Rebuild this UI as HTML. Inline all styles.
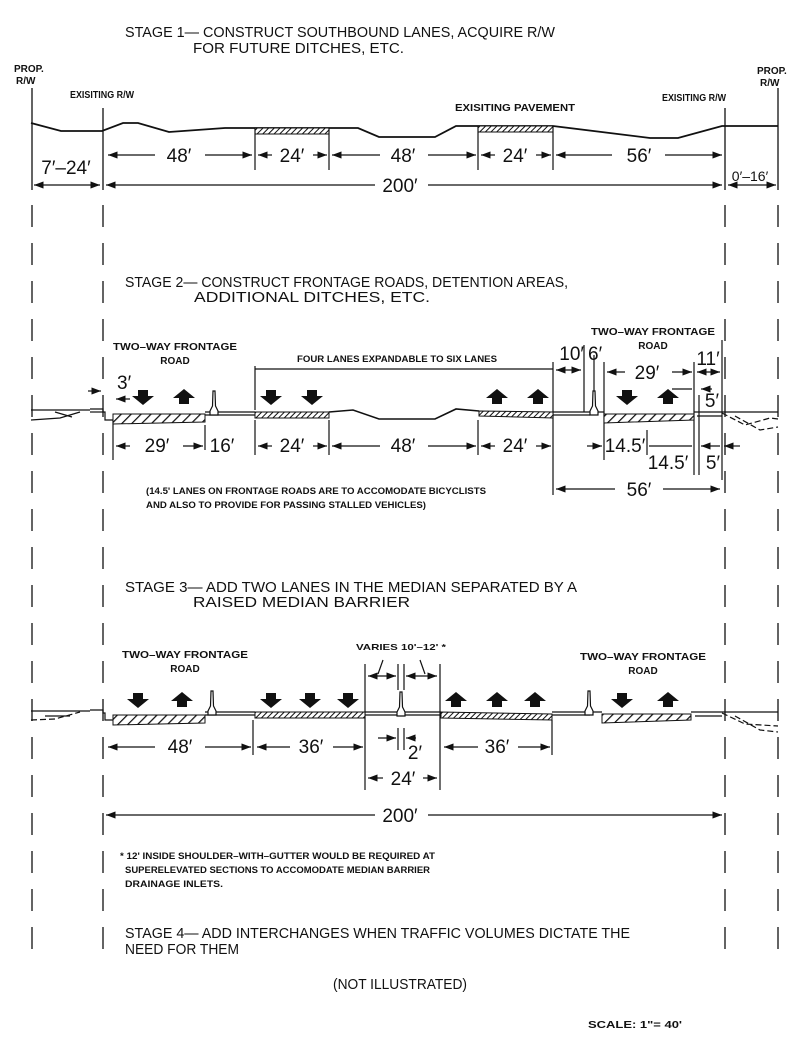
<!DOCTYPE html>
<html><head><meta charset="utf-8"><style>
html,body{margin:0;padding:0;background:#fff;}
svg{display:block;}
text{font-family:"Liberation Sans",sans-serif;fill:#111;}
.h{font-size:15px;}
.d{font-size:19px;}
.s{font-size:10px;font-weight:bold;}
.n{font-size:9px;font-weight:bold;}
</style></head><body>
<svg width="800" height="1039" viewBox="0 0 800 1039" xmlns="http://www.w3.org/2000/svg">
<defs>
<pattern id="hat" width="4" height="4" patternUnits="userSpaceOnUse" patternTransform="rotate(45)">
<rect width="4" height="4" fill="#fff"/><line x1="0" y1="0" x2="0" y2="4" stroke="#111" stroke-width="2"/></pattern>
<pattern id="hat2" width="7" height="7" patternUnits="userSpaceOnUse" patternTransform="rotate(45)">
<rect width="7" height="7" fill="#fff"/><line x1="0" y1="0" x2="0" y2="7" stroke="#111" stroke-width="2.5"/></pattern>
<path id="dn" d="M-5,-7 h10 v6 h6 l-11,9 l-11,-9 h6 z" fill="#111"/>
<path id="up" d="M-5,7 h10 v-6 h6 l-11,-9 l-11,9 h6 z" fill="#111"/>
<path id="bar" d="M-4,6 L-4,2 L-1.5,-3 L-1,-18 L1,-18 L1.5,-3 L4,2 L4,6 Z" fill="#fff" stroke="#111" stroke-width="1.2"/>
<marker id="ar" markerWidth="8" markerHeight="6" refX="8" refY="3" orient="auto"><path d="M0,0 L8,3 L0,6 z" fill="#111"/></marker>
<marker id="al" markerWidth="8" markerHeight="6" refX="0" refY="3" orient="auto"><path d="M8,0 L0,3 L8,6 z" fill="#111"/></marker>
</defs>
<g stroke="#111" fill="none" stroke-width="1.3">
<!-- Vertical dashed lines -->
<line x1="32" y1="88" x2="32" y2="190"/>
<line x1="778" y1="88" x2="778" y2="190"/>
<line x1="103" y1="108" x2="103" y2="190"/>
<line x1="725" y1="108" x2="725" y2="190"/>
<g stroke-dasharray="22,16">
<line x1="32" y1="205" x2="32" y2="965"/>
<line x1="103" y1="205" x2="103" y2="965"/>
<line x1="725" y1="205" x2="725" y2="965"/>
<line x1="778" y1="205" x2="778" y2="965"/>
</g>
<!-- Stage 1 ground -->
<polyline stroke-width="1.8" points="31,123 61,131 102,131 123,123 138,123 169,132 225,128 358,128 379,137 435,137 456,126 553,126 650,138 678,138 722,126 778,126"/>
</g>
<rect x="255" y="128" width="74" height="6" fill="url(#hat)" stroke="#111"/>
<rect x="478" y="126" width="75" height="6" fill="url(#hat)" stroke="#111"/>
<g stroke="#111" stroke-width="1.2" fill="none">
<line x1="255" y1="128" x2="255" y2="170"/><line x1="329" y1="128" x2="329" y2="170"/>
<line x1="478" y1="126" x2="478" y2="170"/><line x1="553" y1="126" x2="553" y2="170"/>
<line x1="108" y1="155" x2="155" y2="155" marker-start="url(#al)"/><line x1="205" y1="155" x2="252" y2="155" marker-end="url(#ar)"/>
<line x1="258" y1="155" x2="272" y2="155" marker-start="url(#al)"/><line x1="313" y1="155" x2="327" y2="155" marker-end="url(#ar)"/>
<line x1="332" y1="155" x2="380" y2="155" marker-start="url(#al)"/><line x1="428" y1="155" x2="476" y2="155" marker-end="url(#ar)"/>
<line x1="481" y1="155" x2="495" y2="155" marker-start="url(#al)"/><line x1="536" y1="155" x2="551" y2="155" marker-end="url(#ar)"/>
<line x1="556" y1="155" x2="612" y2="155" marker-start="url(#al)"/><line x1="665" y1="155" x2="722" y2="155" marker-end="url(#ar)"/>
<line x1="106" y1="185" x2="375" y2="185" marker-start="url(#al)"/><line x1="428" y1="185" x2="722" y2="185" marker-end="url(#ar)"/>
<line x1="34" y1="185" x2="100" y2="185" marker-start="url(#al)" marker-end="url(#ar)"/>
<line x1="728" y1="185" x2="776" y2="185" marker-start="url(#al)" marker-end="url(#ar)"/>
</g>
<text class="h" x="125" y="37" textLength="430" lengthAdjust="spacingAndGlyphs">STAGE 1— CONSTRUCT SOUTHBOUND LANES, ACQUIRE R/W</text>
<text class="h" x="193" y="53" textLength="211" lengthAdjust="spacingAndGlyphs">FOR FUTURE DITCHES, ETC.</text>
<text class="s" x="14" y="72">PROP.</text><text class="s" x="16" y="84">R/W</text>
<text class="s" x="757" y="74">PROP.</text><text class="s" x="760" y="86">R/W</text>
<text class="s" x="70" y="98" textLength="64" lengthAdjust="spacingAndGlyphs">EXISITING R/W</text>
<text class="s" x="662" y="101" textLength="64" lengthAdjust="spacingAndGlyphs">EXISITING R/W</text>
<text class="s" x="455" y="111" textLength="120" lengthAdjust="spacingAndGlyphs">EXISITING PAVEMENT</text>
<text class="d" x="179" y="162" text-anchor="middle">48′</text>
<text class="d" x="292" y="162" text-anchor="middle">24′</text>
<text class="d" x="403" y="162" text-anchor="middle">48′</text>
<text class="d" x="515" y="162" text-anchor="middle">24′</text>
<text class="d" x="639" y="162" text-anchor="middle">56′</text>
<text class="d" x="66" y="174" text-anchor="middle" font-size="20">7′–24′</text>
<text class="d" x="400" y="192" text-anchor="middle">200′</text>
<text x="750" y="181" text-anchor="middle" font-size="14">0′–16′</text>

<!-- Stage 2 -->
<text class="h" x="125" y="287" textLength="443" lengthAdjust="spacingAndGlyphs">STAGE 2— CONSTRUCT FRONTAGE ROADS, DETENTION AREAS,</text>
<text class="h" x="194" y="302" textLength="236" lengthAdjust="spacingAndGlyphs">ADDITIONAL DITCHES, ETC.</text>
<text class="s" x="175" y="350" text-anchor="middle" textLength="124" lengthAdjust="spacingAndGlyphs">TWO–WAY FRONTAGE</text>
<text class="s" x="175" y="364" text-anchor="middle">ROAD</text>
<text class="s" x="653" y="335" text-anchor="middle" textLength="124" lengthAdjust="spacingAndGlyphs">TWO–WAY FRONTAGE</text>
<text class="s" x="653" y="349" text-anchor="middle">ROAD</text>
<text x="397" y="362" text-anchor="middle" font-size="9" font-weight="bold" textLength="200" lengthAdjust="spacingAndGlyphs">FOUR LANES EXPANDABLE TO SIX LANES</text>
<g stroke="#111" stroke-width="1.2" fill="none">
<line x1="255" y1="369" x2="553" y2="369"/>
<line x1="255" y1="366" x2="255" y2="410"/><line x1="553" y1="362" x2="553" y2="495"/>
<polyline points="31,410 90,410"/><polyline points="31,420 60,418 80,412"/><polyline points="55,412 72,417"/>
<polyline points="90,409 103,409 103,412 105,412 105,420 113,420"/>
<line x1="90" y1="412" x2="103" y2="412"/>
<line x1="205" y1="412" x2="255" y2="412"/>
<line x1="205" y1="415" x2="255" y2="415"/>
<polyline stroke-width="1.6" points="329,412 353,410 379,419 435,419 456,409 479,411"/>
<line x1="553" y1="412" x2="604" y2="412"/><line x1="553" y1="415" x2="590" y2="415"/>
<line x1="694" y1="412" x2="722" y2="412"/><line x1="697" y1="416" x2="722" y2="416"/>
<polyline points="722,412 778,412"/><polyline points="722,413 745,425 770,418 778,419" stroke-dasharray="6,3"/><polyline points="735,416 760,430 778,427" stroke-dasharray="6,3"/>
<line x1="584" y1="345" x2="584" y2="412"/><line x1="594" y1="355" x2="594" y2="392"/>
<line x1="604" y1="362" x2="604" y2="460"/><line x1="694" y1="362" x2="694" y2="475"/>
<line x1="699" y1="395" x2="699" y2="475"/><line x1="722" y1="340" x2="722" y2="480"/>
<line x1="113" y1="420" x2="113" y2="460"/><line x1="205" y1="425" x2="205" y2="450"/>
<line x1="255" y1="420" x2="255" y2="455"/><line x1="329" y1="420" x2="329" y2="455"/><line x1="478" y1="420" x2="478" y2="455"/>
<line x1="647" y1="430" x2="647" y2="455"/>
<line x1="556" y1="370" x2="581" y2="370" marker-start="url(#al)" marker-end="url(#ar)"/>
<line x1="607" y1="372" x2="625" y2="372" marker-start="url(#al)"/><line x1="672" y1="372" x2="692" y2="372" marker-end="url(#ar)"/>
<line x1="697" y1="372" x2="720" y2="372" marker-start="url(#al)" marker-end="url(#ar)"/>
<line x1="672" y1="389" x2="692" y2="389"/><line x1="701" y1="389" x2="712" y2="389" marker-start="url(#al)"/>
<line x1="88" y1="391" x2="101" y2="391" marker-end="url(#ar)"/>
<line x1="116" y1="399" x2="130" y2="399" marker-start="url(#al)"/>
<line x1="116" y1="446" x2="130" y2="446" marker-start="url(#al)"/><line x1="183" y1="446" x2="203" y2="446" marker-end="url(#ar)"/>
<line x1="258" y1="446" x2="272" y2="446" marker-start="url(#al)"/><line x1="313" y1="446" x2="327" y2="446" marker-end="url(#ar)"/>
<line x1="332" y1="446" x2="380" y2="446" marker-start="url(#al)"/><line x1="428" y1="446" x2="476" y2="446" marker-end="url(#ar)"/>
<line x1="481" y1="446" x2="495" y2="446" marker-start="url(#al)"/><line x1="536" y1="446" x2="551" y2="446" marker-end="url(#ar)"/>
<line x1="587" y1="446" x2="602" y2="446" marker-end="url(#ar)"/>
<line x1="649" y1="446" x2="692" y2="446"/>
<line x1="701" y1="446" x2="720" y2="446" marker-start="url(#al)"/><line x1="724" y1="446" x2="740" y2="446" marker-start="url(#al)"/>
<line x1="556" y1="489" x2="615" y2="489" marker-start="url(#al)"/><line x1="663" y1="489" x2="720" y2="489" marker-end="url(#ar)"/>
</g>
<path d="M113,414 L205,414 L205,422 L113,424 Z" fill="url(#hat2)" stroke="#111"/>
<path d="M255,412 L329,412 L329,418 L255,418 Z" fill="url(#hat)" stroke="#111"/>
<path d="M479,411 L553,412 L553,418 L479,416 Z" fill="url(#hat)" stroke="#111"/>
<path d="M604,414 L694,414 L694,420 L604,423 Z" fill="url(#hat2)" stroke="#111"/>
<use href="#bar" x="214" y="409"/><use href="#bar" x="594" y="409"/>
<use href="#dn" x="143" y="397"/><use href="#up" x="184" y="397"/>
<use href="#dn" x="271" y="397"/><use href="#dn" x="312" y="397"/>
<use href="#up" x="497" y="397"/><use href="#up" x="538" y="397"/>
<use href="#dn" x="627" y="397"/><use href="#up" x="668" y="397"/>
<text class="d" x="117" y="389" font-size="17">3′</text>
<text class="d" x="584" y="360" text-anchor="end" font-size="17">10′</text>
<text class="d" x="588" y="360" font-size="17">6′</text>
<text class="d" x="647" y="379" text-anchor="middle" font-size="17">29′</text>
<text class="d" x="708" y="365" text-anchor="middle" font-size="17">11′</text>
<text class="d" x="712" y="407" text-anchor="middle" font-size="17">5′</text>
<text class="d" x="157" y="452" text-anchor="middle">29′</text>
<text class="d" x="222" y="452" text-anchor="middle">16′</text>
<text class="d" x="292" y="452" text-anchor="middle">24′</text>
<text class="d" x="403" y="452" text-anchor="middle">48′</text>
<text class="d" x="515" y="452" text-anchor="middle">24′</text>
<text class="d" x="625" y="452" text-anchor="middle" font-size="17">14.5′</text>
<text class="d" x="668" y="469" text-anchor="middle" font-size="17">14.5′</text>
<text class="d" x="713" y="469" text-anchor="middle" font-size="17">5′</text>
<text class="d" x="639" y="496" text-anchor="middle">56′</text>
<text class="n" x="146" y="494" textLength="340" lengthAdjust="spacingAndGlyphs">(14.5' LANES ON FRONTAGE ROADS ARE TO ACCOMODATE BICYCLISTS</text>
<text class="n" x="146" y="508" textLength="280" lengthAdjust="spacingAndGlyphs">AND ALSO TO PROVIDE FOR PASSING STALLED VEHICLES)</text>

<!-- Stage 3 -->
<text class="h" x="125" y="592" textLength="452" lengthAdjust="spacingAndGlyphs">STAGE 3— ADD TWO LANES IN THE MEDIAN SEPARATED BY A</text>
<text class="h" x="193" y="607" textLength="217" lengthAdjust="spacingAndGlyphs">RAISED MEDIAN BARRIER</text>
<text class="s" x="185" y="658" text-anchor="middle" textLength="126" lengthAdjust="spacingAndGlyphs">TWO–WAY FRONTAGE</text>
<text class="s" x="185" y="672" text-anchor="middle">ROAD</text>
<text class="s" x="643" y="660" text-anchor="middle" textLength="126" lengthAdjust="spacingAndGlyphs">TWO–WAY FRONTAGE</text>
<text class="s" x="643" y="674" text-anchor="middle">ROAD</text>
<text x="401" y="650" text-anchor="middle" font-size="8.5" font-weight="bold" textLength="90" lengthAdjust="spacingAndGlyphs">VARIES 10'–12' *</text>
<g stroke="#111" stroke-width="1.2" fill="none">
<polyline points="31,711 90,711"/><polyline points="31,720 55,719 80,712" stroke-dasharray="6,3"/><polyline points="45,716 70,716"/>
<polyline points="90,710 103,710 103,713 105,713 105,720 113,720"/>
<line x1="205" y1="712" x2="255" y2="712"/><line x1="205" y1="715" x2="255" y2="715"/>
<line x1="365" y1="712" x2="441" y2="712"/><line x1="365" y1="715" x2="441" y2="715"/>
<line x1="552" y1="712" x2="602" y2="712"/><line x1="552" y1="715" x2="590" y2="715"/>
<line x1="691" y1="712" x2="722" y2="712"/><line x1="695" y1="716" x2="722" y2="716"/>
<polyline points="722,712 778,712"/><polyline points="722,713 745,724 778,726" stroke-dasharray="6,3"/><polyline points="735,716 760,730 778,732" stroke-dasharray="6,3"/>
<line x1="365" y1="664" x2="365" y2="790"/><line x1="440" y1="664" x2="440" y2="790"/>
<line x1="398" y1="664" x2="398" y2="690"/><line x1="404" y1="664" x2="404" y2="690"/>
<line x1="398" y1="728" x2="398" y2="750"/><line x1="404" y1="728" x2="404" y2="750"/>
<line x1="368" y1="676" x2="396" y2="676" marker-start="url(#al)" marker-end="url(#ar)"/>
<line x1="406" y1="676" x2="437" y2="676" marker-start="url(#al)" marker-end="url(#ar)"/>
<line x1="383" y1="660" x2="378" y2="674"/><line x1="420" y1="660" x2="425" y2="674"/>
<line x1="378" y1="738" x2="396" y2="738" marker-end="url(#ar)"/><line x1="406" y1="738" x2="416" y2="738" marker-start="url(#al)"/>
<line x1="253" y1="720" x2="253" y2="755"/><line x1="552" y1="720" x2="552" y2="755"/>
<line x1="108" y1="747" x2="155" y2="747" marker-start="url(#al)"/><line x1="205" y1="747" x2="251" y2="747" marker-end="url(#ar)"/>
<line x1="257" y1="747" x2="290" y2="747" marker-start="url(#al)"/><line x1="333" y1="747" x2="363" y2="747" marker-end="url(#ar)"/>
<line x1="444" y1="747" x2="478" y2="747" marker-start="url(#al)"/><line x1="518" y1="747" x2="550" y2="747" marker-end="url(#ar)"/>
<line x1="368" y1="778" x2="383" y2="778" marker-start="url(#al)"/><line x1="423" y1="778" x2="437" y2="778" marker-end="url(#ar)"/>
<line x1="106" y1="815" x2="375" y2="815" marker-start="url(#al)"/><line x1="428" y1="815" x2="722" y2="815" marker-end="url(#ar)"/>
</g>
<path d="M113,715 L205,715 L205,723 L113,725 Z" fill="url(#hat2)" stroke="#111"/>
<path d="M255,712 L365,712 L365,718 L255,718 Z" fill="url(#hat)" stroke="#111"/>
<path d="M441,712 L552,714 L552,720 L441,718 Z" fill="url(#hat)" stroke="#111"/>
<path d="M602,714 L691,714 L691,720 L602,723 Z" fill="url(#hat2)" stroke="#111"/>
<use href="#bar" x="212" y="709"/><use href="#bar" x="589" y="709"/><use href="#bar" x="401" y="710"/>
<use href="#dn" x="138" y="700"/><use href="#up" x="182" y="700"/>
<use href="#dn" x="271" y="700"/><use href="#dn" x="310" y="700"/><use href="#dn" x="348" y="700"/>
<use href="#up" x="456" y="700"/><use href="#up" x="497" y="700"/><use href="#up" x="535" y="700"/>
<use href="#dn" x="622" y="700"/><use href="#up" x="668" y="700"/>
<text class="d" x="180" y="753" text-anchor="middle">48′</text>
<text class="d" x="311" y="753" text-anchor="middle">36′</text>
<text class="d" x="415" y="759" text-anchor="middle" font-size="17">2′</text>
<text class="d" x="497" y="753" text-anchor="middle">36′</text>
<text class="d" x="403" y="785" text-anchor="middle">24′</text>
<text class="d" x="400" y="822" text-anchor="middle">200′</text>

<text class="n" x="120" y="859" textLength="315" lengthAdjust="spacingAndGlyphs">* 12' INSIDE SHOULDER–WITH–GUTTER WOULD BE REQUIRED AT</text>
<text class="n" x="125" y="873" textLength="305" lengthAdjust="spacingAndGlyphs">SUPERELEVATED SECTIONS TO ACCOMODATE MEDIAN BARRIER</text>
<text class="n" x="125" y="887" textLength="98" lengthAdjust="spacingAndGlyphs">DRAINAGE INLETS.</text>
<text class="h" x="125" y="938" textLength="505" lengthAdjust="spacingAndGlyphs">STAGE 4— ADD INTERCHANGES WHEN TRAFFIC VOLUMES DICTATE THE</text>
<text class="h" x="125" y="954" textLength="114" lengthAdjust="spacingAndGlyphs">NEED FOR THEM</text>
<text class="h" x="333" y="989" textLength="134" lengthAdjust="spacingAndGlyphs">(NOT ILLUSTRATED)</text>
<text x="588" y="1028" font-size="10" font-weight="bold" textLength="94" lengthAdjust="spacingAndGlyphs">SCALE: 1"= 40'</text>
</svg>
</body></html>
